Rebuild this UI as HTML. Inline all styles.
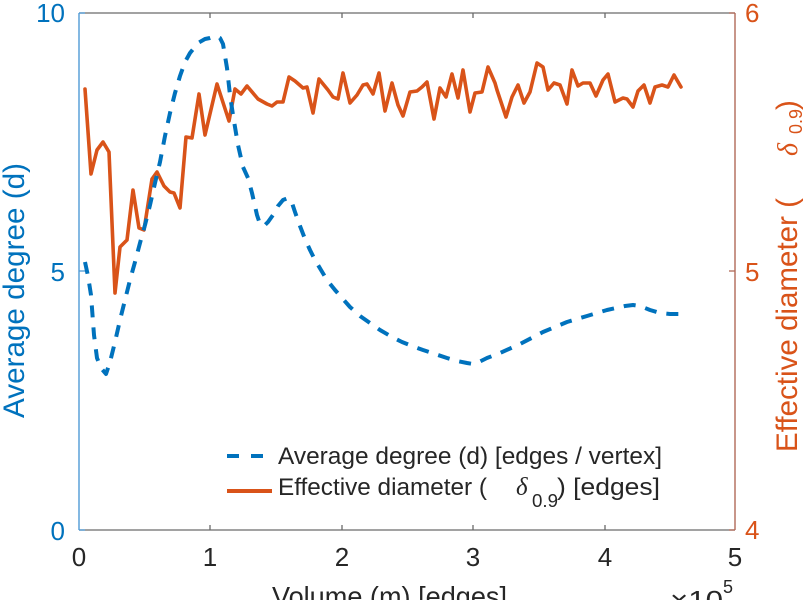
<!DOCTYPE html>
<html>
<head>
<meta charset="utf-8">
<style>
html,body{margin:0;padding:0;background:#fff;}
svg{display:block;}
text{font-family:"Liberation Sans", sans-serif;}
</style>
</head>
<body>
<svg width="812" height="600" viewBox="0 0 812 600" xmlns="http://www.w3.org/2000/svg">
<rect width="812" height="600" fill="#ffffff"/>

<!-- axes box -->
<line x1="79" y1="13" x2="735" y2="13" stroke="#6a6a6a" stroke-width="1.3"/>
<line x1="79" y1="530" x2="735" y2="530" stroke="#6a6a6a" stroke-width="1.3"/>
<line x1="79" y1="13" x2="79" y2="530" stroke="#4f9bd6" stroke-width="1.4"/>
<line x1="735" y1="13" x2="735" y2="530" stroke="#b06a58" stroke-width="1.4"/>

<!-- x ticks -->
<g stroke="#6a6a6a" stroke-width="1.3">
<line x1="210" y1="13" x2="210" y2="18"/>
<line x1="342" y1="13" x2="342" y2="18"/>
<line x1="473" y1="13" x2="473" y2="18"/>
<line x1="605" y1="13" x2="605" y2="18"/>
<line x1="210" y1="530" x2="210" y2="525"/>
<line x1="342" y1="530" x2="342" y2="525"/>
<line x1="473" y1="530" x2="473" y2="525"/>
<line x1="605" y1="530" x2="605" y2="525"/>
</g>
<!-- left y ticks -->
<g stroke="#4f9bd6" stroke-width="1.3">
<line x1="79" y1="13" x2="85" y2="13"/>
<line x1="79" y1="271" x2="85" y2="271"/>
<line x1="79" y1="530" x2="85" y2="530"/>
</g>
<!-- right y ticks -->
<g stroke="#b06a58" stroke-width="1.3">
<line x1="735" y1="13" x2="729" y2="13"/>
<line x1="735" y1="271" x2="729" y2="271"/>
<line x1="735" y1="530" x2="729" y2="530"/>
</g>

<!-- left tick labels -->
<g fill="#0072BD" font-size="26" text-anchor="end">
<text x="65" y="22">10</text>
<text x="65" y="281">5</text>
<text x="65" y="540">0</text>
</g>
<!-- right tick labels -->
<g fill="#D95319" font-size="26" text-anchor="start">
<text x="745" y="22">6</text>
<text x="745" y="281">5</text>
<text x="745" y="539">4</text>
</g>
<!-- x tick labels -->
<g fill="#262626" font-size="26" text-anchor="middle">
<text x="79" y="566">0</text>
<text x="210" y="566">1</text>
<text x="342" y="566">2</text>
<text x="473" y="566">3</text>
<text x="605" y="566">4</text>
<text x="735" y="566">5</text>
</g>
<!-- x10^5 -->
<text x="670" y="609" font-size="26" fill="#262626" textLength="53" lengthAdjust="spacingAndGlyphs">×10</text>
<text x="723" y="593" font-size="18" fill="#262626">5</text>

<!-- x label -->
<text x="272" y="606" font-size="28" fill="#262626" textLength="235" lengthAdjust="spacingAndGlyphs">Volume (m) [edges]</text>

<!-- left y label -->
<text transform="translate(24,418) rotate(-90)" font-size="29.5" fill="#0072BD" textLength="255" lengthAdjust="spacingAndGlyphs">Average degree (d)</text>

<!-- right y label -->
<g transform="translate(797,452) rotate(-90)" fill="#D95319">
<text x="0" y="0" font-size="29.5" textLength="254" lengthAdjust="spacingAndGlyphs">Effective diameter (</text>
<text x="296" y="0" font-size="28" font-style="italic" style="font-family:'Liberation Serif',serif">δ</text>
<text x="318" y="5" font-size="18">0.9</text>
<text x="342" y="0" font-size="29.5">)</text>
</g>

<!-- orange series -->
<polyline fill="none" stroke="#D95319" stroke-width="3.6" stroke-linejoin="round" stroke-linecap="round"
points="85,89 91,174 97,150 103,142 109,152 115,293 120,247 127,240 133,190 139,228 144,230 152,179 157,172 164,186 170,192 174,193 180,208 186,137 192,138 199,94 205,135 217,84 229,121 235,89 241,94 247,86 258,99 267,104 272,106 277,102 283,102 289,77 295,81 303,88 307,87 313,113 319,79 328,90 333,97 338,99 343,73 350,103 357,95 363,85 367,84 373,94 379,73 385,111 392,83 398,105 403,116 410,92 417,91 422,87 427,82 434,119 440,88 446,97 452,74 458,98 463,70 470,112 475,93 482,92 488,67 495,83 497,90 506,117 512,97 518,85 524,103 530,92 537,63 543,67 548,90 554,83 560,85 567,104 572,70 578,86 583,83 590,83 596,96 603,80 608,74 615,102 623,98 627,99 633,107 638,91 644,85 650,103 655,87 662,85 668,87 674,75 681,87"/>

<!-- blue dashed series -->
<polyline fill="none" stroke="#0072BD" stroke-width="4" stroke-dasharray="12 10" stroke-linejoin="round"
points="85,262 88,276 91,295 94,335 97,358 101,368 106,374 110,362 115,342 120,320 125,300 130,280 135,262 140,243 145,225 150,205 155,183 160,162 165,136 170,113 175,93 180,76 185,62 190,53 198,43 205,39 210,38 216,36 220,38 223,44 227,68 230,95 233,115 238,145 243,167 248,178 252,193 257,215 260,224 264,226 268,222 273,215 278,206 283,200 288,198 292,203 295,212 300,226 305,239 310,250 315,260 321,270 327,280 335,290 342,298 350,307 360,316 370,323 380,330 392,337 402,342 412,346 423,350 435,354 447,358 457,361 467,363 473,364 479,362 487,358 500,353 520,344 543,332 567,322 587,316 607,310 625,306 633,305 640,306 650,310 660,313 670,314 680,314"/>

<!-- legend -->
<line x1="227" y1="456" x2="272" y2="456" stroke="#0072BD" stroke-width="4" stroke-dasharray="12 12"/>
<text x="278" y="464" font-size="24" fill="#262626" textLength="384" lengthAdjust="spacingAndGlyphs">Average degree (d) [edges / vertex]</text>
<line x1="227" y1="491" x2="272" y2="491" stroke="#D95319" stroke-width="4"/>
<text x="278" y="495" font-size="24" fill="#262626" textLength="209" lengthAdjust="spacingAndGlyphs">Effective diameter (</text>
<text x="516" y="495" font-size="25" font-style="italic" fill="#262626" style="font-family:'Liberation Serif',serif">δ</text>
<text x="532" y="507" font-size="18" fill="#262626" textLength="26" lengthAdjust="spacingAndGlyphs">0.9</text>
<text x="557" y="495" font-size="24" fill="#262626" textLength="103" lengthAdjust="spacingAndGlyphs">) [edges]</text>
</svg>
</body>
</html>
